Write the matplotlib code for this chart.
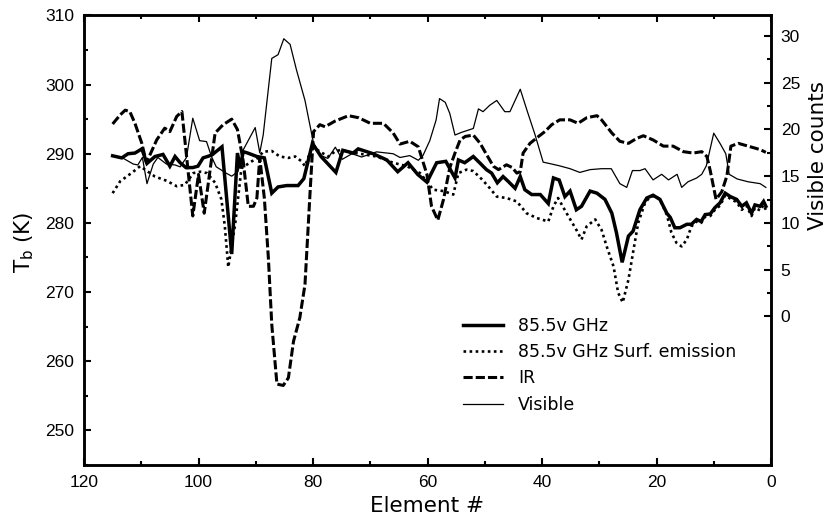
import matplotlib
matplotlib.use('Agg')
import matplotlib.pyplot as plt
from matplotlib.ticker import MultipleLocator, FixedLocator

plt.rcParams['mathtext.fontset'] = 'dejavusans'

# 85.5v GHz brightness temperature (K)
mw_x = [115, 113.4, 112.3, 111.1, 109.9, 109.0, 107.6, 106.2, 105.0, 104.1,
        103.2, 102.2, 101.0, 100.1, 99.2, 97.7, 95.9, 94.2, 93.2, 92.7,
        92.2, 91.4, 89.8, 88.5, 87.2, 86.1, 84.6, 82.6, 81.6, 80.1,
        78.6, 76.0, 74.8, 73.0, 72.1, 69.5, 67.1, 65.2, 63.4, 61.7,
        60.1, 58.4, 56.8, 55.2, 54.6, 53.5, 52.0, 50.9, 49.7, 48.8,
        47.8, 46.8, 45.9, 44.7, 43.8, 43.0, 41.8, 40.3, 38.9, 38.0,
        37.0, 36.0, 35.1, 34.0, 33.1, 31.6, 30.4, 29.0, 27.8, 27.0,
        26.0, 24.9, 24.1, 22.9, 21.7, 20.6, 19.4, 18.2, 17.6, 16.8,
        15.9, 14.7, 13.9, 13.0, 12.2, 11.5, 10.6, 9.8, 8.9, 8.0,
        7.1, 6.0, 5.1, 4.3, 3.4, 2.8, 1.9, 1.3, 0.9]
mw_tb = [289.7, 289.4, 290.0, 290.1, 290.7, 288.6, 289.6, 289.9, 288.2, 289.6,
         288.7, 288.0, 288.0, 288.2, 289.4, 289.8, 291.0, 275.5, 290.1, 287.9,
         290.3, 290.1, 289.6, 289.4, 284.3, 285.2, 285.4, 285.4, 286.4, 291.5,
         289.6, 287.3, 290.5, 290.1, 290.7, 290.0, 289.1, 287.4, 288.7, 287.0,
         285.9, 288.7, 288.9, 286.5, 289.1, 288.7, 289.6, 288.7, 287.7, 287.2,
         285.8, 286.7, 286.0, 285.0, 286.7, 284.8, 284.1, 284.1, 282.8, 286.5,
         286.2, 283.8, 284.6, 281.9, 282.4, 284.6, 284.3, 283.4, 281.4, 278.6,
         274.3, 278.1, 278.8, 281.9, 283.6, 284.0, 283.4, 281.4, 280.8, 279.3,
         279.3, 279.8, 279.8, 280.5, 280.2, 281.2, 281.3, 282.2, 282.9, 284.3,
         283.8, 283.4, 282.4, 282.9, 281.4, 282.6, 282.4, 283.1, 282.4]

# 85.5v GHz surface emission (K)
sf_x = [115, 113.7, 111.4, 110.2, 107.6, 105.6, 103.8, 102.4, 100.9, 99.7,
        98.5, 97.1, 96.0, 95.4, 94.8, 93.6, 92.5, 90.7, 89.6, 88.7,
        87.2, 85.8, 84.3, 83.1, 82.0, 81.4, 80.1, 78.8, 77.3, 76.2,
        75.0, 74.1, 68.9, 66.0, 63.6, 61.3, 59.0, 57.2, 55.5, 54.6,
        53.2, 52.0, 50.5, 49.4, 47.9, 46.2, 44.4, 42.7, 40.9, 38.9,
        38.0, 37.2, 35.7, 34.0, 33.1, 32.2, 30.7, 29.6, 28.7, 27.5,
        26.7, 25.9, 24.9, 24.1, 23.2, 22.0, 21.1, 20.3, 19.4, 18.2,
        17.4, 16.5, 15.6, 14.7, 13.9, 13.0, 12.2, 11.5, 10.6, 9.8,
        8.9, 8.0, 7.1, 6.0, 5.1, 4.3, 3.4, 2.8, 1.9, 1.3,
        0.9]
sf_tb = [284.3, 286.0, 287.4, 288.2, 286.7, 286.1, 285.3, 285.5, 287.2, 287.4,
         287.2, 285.8, 283.4, 279.5, 273.6, 279.8, 287.9, 288.9, 289.4, 290.3,
         290.4, 289.6, 289.4, 289.6, 288.9, 288.2, 291.1, 290.3, 289.6, 290.3,
         290.6, 290.3, 289.6, 288.7, 288.2, 287.2, 284.8, 284.6, 284.1, 287.2,
         287.7, 287.5, 286.3, 285.3, 283.8, 283.6, 283.1, 281.4, 280.7, 280.2,
         282.4, 283.6, 281.4, 279.0, 277.6, 279.5, 280.5, 279.0, 276.6, 273.7,
         269.9, 268.5, 271.8, 275.7, 280.0, 282.9, 283.8, 283.9, 283.4, 281.2,
         278.6, 277.1, 276.6, 277.6, 279.5, 280.2, 280.0, 280.9, 281.0, 281.9,
         282.5, 284.0, 283.5, 283.0, 281.9, 282.5, 281.0, 282.2, 281.8, 282.6,
         281.9]

# IR brightness temperature (K)
ir_x = [115, 113.7, 112.8, 112.0, 111.1, 109.9, 109.1, 107.3, 105.9, 105.0,
        103.8, 102.9, 101.0, 100.0, 99.0, 97.1, 95.7, 94.2, 93.2, 92.2,
        91.3, 90.4, 89.8, 89.3, 88.5, 87.8, 87.2, 86.3, 85.2, 84.3,
        83.4, 82.3, 81.4, 80.5, 79.9, 78.8, 77.9, 76.2, 73.8, 72.0,
        70.0, 67.7, 66.0, 64.8, 63.1, 61.6, 60.1, 59.3, 58.2, 57.2,
        56.1, 55.2, 54.3, 53.4, 52.0, 50.8, 49.7, 48.5, 47.6, 46.2,
        45.2, 44.4, 43.8, 43.3, 42.1, 40.6, 39.5, 38.3, 36.9, 35.1,
        33.7, 32.2, 30.4, 29.6, 27.8, 26.4, 24.9, 23.5, 22.3, 20.6,
        18.8, 17.1, 15.3, 13.6, 12.1, 11.2, 10.6, 9.6, 8.6, 7.7,
        7.0, 5.7, 4.0, 1.9, 0.9]
ir_tb = [294.3, 295.6, 296.3, 296.1, 294.4, 291.5, 288.7, 292.0, 293.7, 293.2,
         295.4, 296.1, 281.0, 287.0, 281.4, 293.0, 294.2, 295.0, 293.5, 289.0,
         282.4, 282.4, 283.6, 289.4, 283.6, 275.0, 265.3, 256.7, 256.5, 257.6,
         262.9, 266.3, 271.1, 284.6, 293.2, 294.2, 293.9, 294.7, 295.5, 295.2,
         294.4, 294.4, 293.0, 291.4, 291.8, 291.0, 287.0, 282.4, 280.4, 283.4,
         288.0, 290.1, 292.0, 292.5, 292.7, 291.5, 289.9, 288.2, 287.7, 288.4,
         288.0, 287.2, 287.4, 290.1, 291.5, 292.5, 293.2, 294.2, 294.9, 294.9,
         294.4, 295.2, 295.5, 294.9, 293.0, 291.8, 291.5, 292.2, 292.6, 292.0,
         291.1, 291.1, 290.3, 290.1, 290.3, 289.6, 287.5, 283.4, 284.5, 286.8,
         291.1, 291.5, 291.1, 290.6, 290.2]

# Visible counts
vis_x = [115, 113.4, 111.4, 110.6, 109.8, 109.0, 107.9, 107.1, 105.6, 104.1,
         103.2, 102.1, 101.0, 99.8, 98.6, 97.7, 96.9, 95.1, 94.2, 93.1,
         92.2, 90.1, 89.3, 88.7, 87.2, 86.1, 85.1, 84.0, 82.9, 81.4,
         79.9, 78.6, 77.4, 76.1, 74.9, 73.2, 71.5, 68.9, 66.0, 64.8,
         63.1, 61.6, 60.8, 59.6, 58.5, 57.9, 56.9, 56.1, 55.2, 54.0,
         52.0, 51.1, 50.3, 49.1, 47.9, 46.5, 45.6, 43.8, 42.6, 41.2,
         39.8, 38.3, 36.9, 35.1, 33.4, 31.6, 29.6, 27.9, 26.4, 25.2,
         24.2, 22.9, 22.0, 20.6, 19.1, 17.9, 16.4, 15.6, 14.5, 13.0,
         12.1, 11.3, 10.0, 8.9, 7.9, 7.3, 5.9, 4.0, 1.9, 0.9]
vis_counts = [17.2, 17.0, 16.3, 16.2, 17.0, 14.2, 16.3, 17.0, 16.3, 16.2,
              16.0, 17.0, 21.2, 18.8, 18.7, 17.05, 16.0, 15.3, 15.0, 15.5,
              17.8, 20.2, 17.5, 19.4, 27.6, 28.0, 29.7, 29.1, 26.4, 23.1,
              18.5, 17.2, 16.9, 18.1, 16.8, 17.4, 17.05, 17.6, 17.4, 17.0,
              17.2, 16.7, 17.2, 18.8, 21.0, 23.3, 22.9, 21.7, 19.4, 19.7,
              20.1, 22.2, 21.9, 22.6, 23.1, 21.9, 21.9, 24.3, 22.0, 19.4,
              16.5, 16.3, 16.1, 15.8, 15.4, 15.7, 15.8, 15.8, 14.2, 13.8,
              15.6, 15.6, 15.8, 14.6, 15.2, 14.6, 15.2, 13.8, 14.4, 14.8,
              15.2, 16.1, 19.6, 18.5, 17.4, 15.2, 14.7, 14.4, 14.2, 13.8]

label_font = 'DejaVu Sans'
tick_font = 'Liberation Sans'

fig = plt.figure(figsize=(8.31, 5.21), dpi=100)
ax = fig.add_axes([84 / 831, 1 - 465 / 521, 687 / 831, 449.6 / 521])
ax2 = ax.twinx()

l1, = ax.plot(mw_x, mw_tb, color='black', lw=2.5, solid_joinstyle='miter')
l2, = ax.plot(sf_x, sf_tb, color='black', lw=1.9, linestyle=(0, (1, 1.3)))
l3, = ax.plot(ir_x, ir_tb, color='black', lw=2.2, linestyle=(0, (3, 1)))
l4, = ax2.plot(vis_x, vis_counts, color='black', lw=0.9)

ax.set_xlim(120, 0)
ax.set_ylim(245, 310)
ax2.set_ylim(-15.9, 32.2)

ax.xaxis.set_major_locator(MultipleLocator(20))
ax.xaxis.set_minor_locator(MultipleLocator(10))
ax.yaxis.set_major_locator(FixedLocator([250, 260, 270, 280, 290, 300, 310]))
ax.yaxis.set_minor_locator(MultipleLocator(5))
ax2.yaxis.set_major_locator(FixedLocator([0, 5, 10, 15, 20, 25, 30]))
ax2.yaxis.set_minor_locator(FixedLocator([2.5, 7.5, 12.5, 17.5, 22.5, 27.5]))

ax.tick_params(axis='both', which='both', direction='in', top=True, right=False, width=1.5)
ax.tick_params(axis='both', which='major', length=5, pad=7, labelsize=12.5)
ax.tick_params(axis='both', which='minor', length=3)
ax2.tick_params(axis='y', which='both', direction='in', width=1.5)
ax2.tick_params(axis='y', which='major', length=5, pad=7, labelsize=12.5)
ax2.tick_params(axis='y', which='minor', length=3)

for a in (ax, ax2):
    for sp in a.spines.values():
        sp.set_linewidth(1.8)
    for lab in a.get_xticklabels() + a.get_yticklabels():
        lab.set_fontfamily(tick_font)

fig.text(427.5 / 831, 1 - 512 / 521, 'Element #', ha='center', va='baseline',
         fontsize=15.5, family=label_font)
fig.text(24 / 831, 1 - 242 / 521, r'T$_\mathregular{b}$ (K)', ha='center', va='center',
         rotation=90, fontsize=15.5, family=label_font)
fig.text(818 / 831, 1 - 155 / 521, 'Visible counts', ha='center', va='center',
         rotation=90, fontsize=15.5, family=label_font)

ax.legend([l1, l2, l3, l4],
          ['85.5v GHz', '85.5v GHz Surf. emission', 'IR', 'Visible'],
          loc='upper left', bbox_to_anchor=(0.552, 0.330), frameon=False,
          borderpad=0, borderaxespad=0, handlelength=2.3, handletextpad=0.85,
          labelspacing=0.48, prop={'family': label_font, 'size': 12.5})

fig.savefig('out.png', dpi=100)
